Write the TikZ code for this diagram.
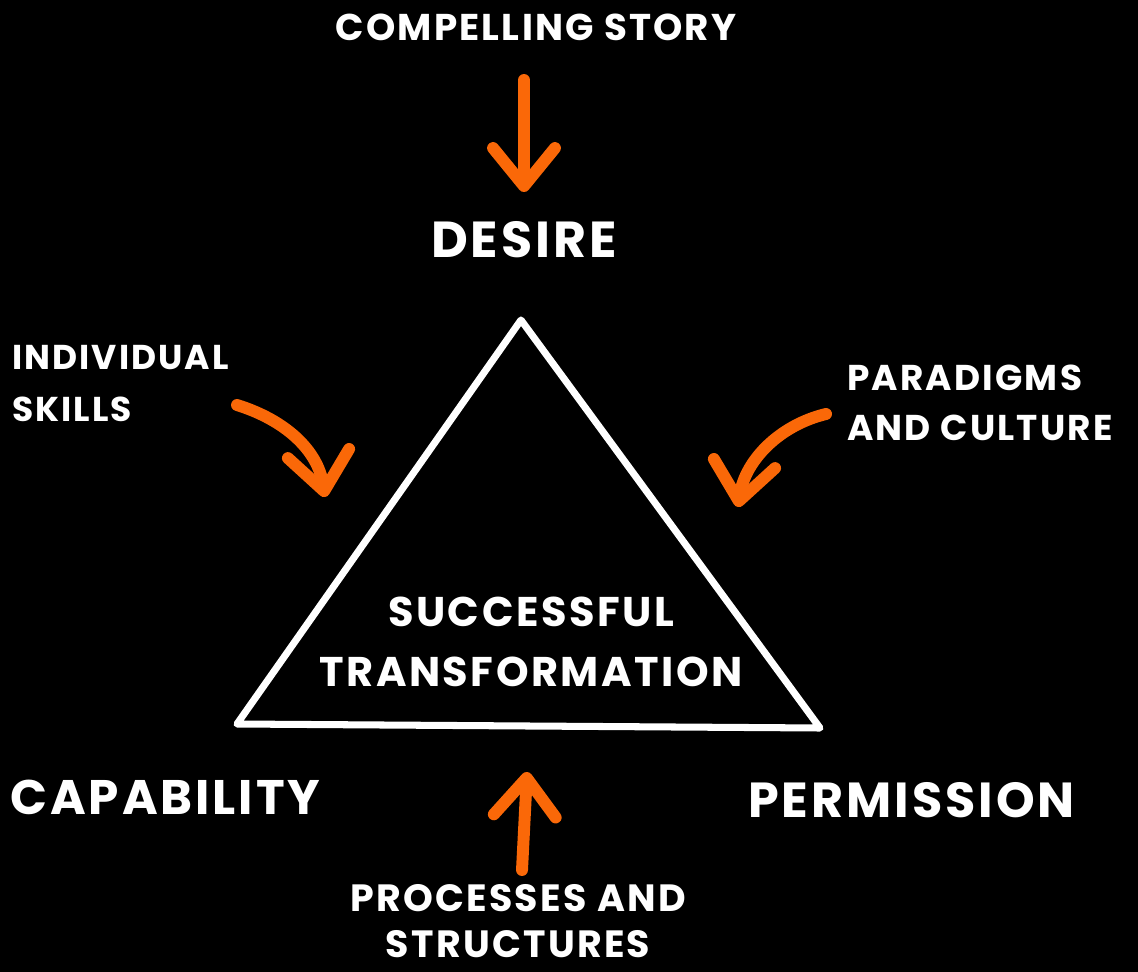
\documentclass[tikz,border=0pt]{standalone}
\usepackage{fontspec}
\setmainfont{Poppins}[LetterSpace=6]
\usetikzlibrary{arrows.meta,positioning}
\definecolor{chalkorange}{RGB}{250,104,8}

\begin{document}
\begin{tikzpicture}[x=0.025cm, y=-0.025cm, line cap=round, line join=round,
  word/.style 2 args={text=white, inner sep=0pt, font=\bfseries\fontsize{#1}{#2}\selectfont},
  push/.style={draw=chalkorange, line width=8.5pt,
    -{Straight Barb[round, length=27pt, width=44pt, line width=8.5pt]}}]
\fill[black] (0,0) rectangle (1138,972);

% the triangle
\draw[white, line width=5pt] (521,320) -- (820,728) -- (237,724) -- cycle;
\node[word={29.5}{43}, align=center] (core) at (531,642) {SUCCESSFUL\\TRANSFORMATION};

% corners
\node[word={36}{40}] (desire) at (524,240) {DESIRE};
\node[word={34.5}{40}, anchor=west] (capability) at (10,797) {CAPABILITY};
\node[word={35}{40}, anchor=west] (permission) at (748,800) {PERMISSION};

% the four pushes
\node[word={26.5}{36}] (story) at (536,27) {COMPELLING STORY};
\node[word={24.5}{37}, anchor=west, align=left] (skills) at (12,384) {INDIVIDUAL\\SKILLS};
\node[word={25.5}{35.5}, anchor=west, align=left] (culture) at (847,403) {PARADIGMS\\AND CULTURE};
\node[word={27}{32.5}, align=center] (processes) at (518,921) {PROCESSES AND\\STRUCTURES};

\coordinate (a1) at (524,80);
\coordinate (a2) at (524,192);
\coordinate (b1) at (237,405);
\coordinate (b2) at (325,497);
\coordinate (c1) at (826,414);
\coordinate (c2) at (738,507);
\coordinate (d1) at (522,870);
\coordinate (d2) at (527,772);

\draw[push] (a1) -- (a2);
\draw[push] (b1) .. controls (285,420) and (318,450) .. (b2);
\draw[push] (c1) .. controls (780,425) and (745,460) .. (c2);
\draw[push] (d1) -- (d2);
\end{tikzpicture}
\end{document}
